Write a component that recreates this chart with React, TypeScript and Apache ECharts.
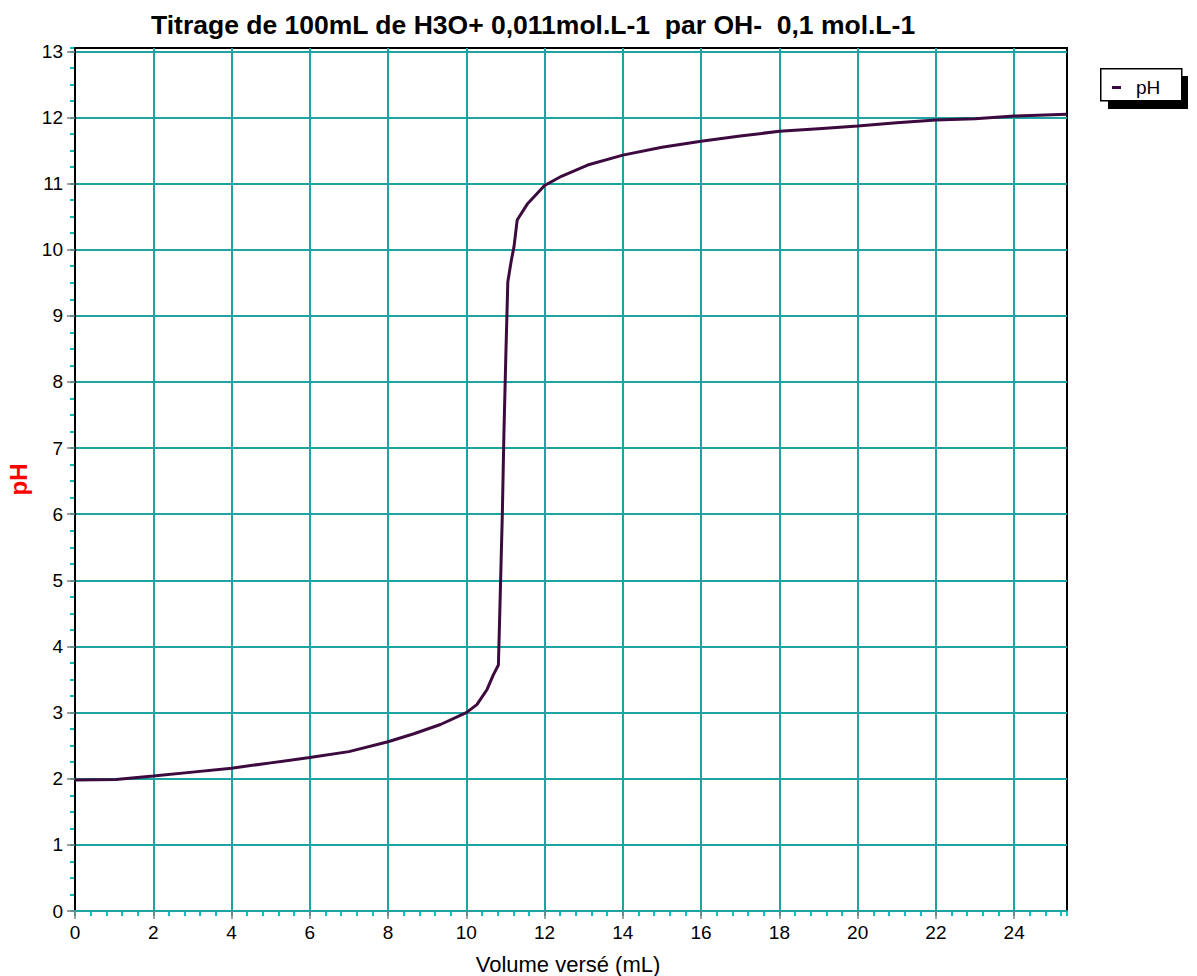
import React, { useEffect, useRef } from "react";
import * as echarts from "echarts";

const TITLE = "Titrage de 100mL de H3O+ 0,011mol.L-1  par OH-  0,1 mol.L-1";
const X_NAME = "Volume versé (mL)";
const Y_NAME = "pH";
const SERIES_NAME = "pH";

const volumes = [0, 1.05, 2, 3, 4, 5, 6, 7, 8, 8.66, 9.34, 10, 10.27, 10.53, 10.69, 10.82, 10.87, 10.92, 10.96, 11.01, 11.06, 11.15, 11.22, 11.3, 11.57, 12, 12.43, 13.1, 14, 15, 16, 17, 18, 19, 20, 21, 22, 23, 24, 25.35];
const phValues = [1.98, 1.99, 2.04, 2.1, 2.16, 2.24, 2.32, 2.41, 2.56, 2.68, 2.82, 3.0, 3.12, 3.35, 3.57, 3.72, 4.85, 6.0, 7.2, 8.4, 9.51, 9.84, 10.05, 10.45, 10.7, 10.97, 11.11, 11.28, 11.43, 11.55, 11.64, 11.72, 11.79, 11.83, 11.87, 11.92, 11.96, 11.98, 12.02, 12.05];

const xTicks = [0, 2, 4, 6, 8, 10, 12, 14, 16, 18, 20, 22, 24];
const yTicks = [0, 1, 2, 3, 4, 5, 6, 7, 8, 9, 10, 11, 12, 13];

const TEAL = "#1ea3a3";
const FONT = "'Liberation Sans', Arial, sans-serif";

export default function App() {
  const ref = useRef<HTMLDivElement>(null);
  useEffect(() => {
    if (!ref.current) return;
    const chart = echarts.init(ref.current, undefined, { renderer: "svg" });
    const data = volumes.map((v, i) => [v, phValues[i]]);
    chart.setOption({
      animation: false,
      backgroundColor: "#fff",
      title: {
        text: TITLE,
        left: 146,
        top: 6,
        textStyle: { fontFamily: FONT, fontWeight: "bold", fontSize: 26.5, color: "#000" },
      },
      grid: {
        left: 75,
        right: 130,
        top: 48,
        bottom: 65,
        show: true,
        borderColor: "#000",
        borderWidth: 2,
        backgroundColor: "#fff",
        containLabel: false,
        outerBoundsMode: "none",
      },
      legend: {
        data: [SERIES_NAME],
        left: 1107,
        top: 73,
        icon: "rect",
        itemWidth: 9,
        itemHeight: 3,
        selectedMode: false,
        textStyle: { fontFamily: FONT, fontSize: 19, color: "#000", padding: [0, 0, 0, 10] },
        z: 10,
      },
      graphic: [
        { type: "rect", left: 1108, top: 76, z: 1, shape: { width: 80, height: 33 }, style: { fill: "#000" } },
        { type: "rect", left: 1100, top: 68, z: 2, shape: { width: 81, height: 32 }, style: { fill: "#fff", stroke: "#000", lineWidth: 1.5 } },
      ],
      xAxis: [
        {
          type: "value",
          min: 0,
          max: 25.35,
          interval: 2,
          position: "bottom",
          z: 3,
          axisLine: { show: true, onZero: false, lineStyle: { color: TEAL, width: 2 } },
          axisTick: { show: true, length: 8, customValues: xTicks, lineStyle: { color: "#808080", width: 1.5 } },
          axisLabel: { customValues: xTicks, margin: 12, fontFamily: FONT, fontSize: 19, color: "#000" },
          splitLine: { show: true, lineStyle: { color: TEAL, width: 2 } },
          name: X_NAME,
          nameLocation: "middle",
          nameGap: 42,
          nameTextStyle: { fontFamily: FONT, fontSize: 22, color: "#000", padding: [0, 6, 0, 0] },
        },
        {
          type: "value",
          min: 0,
          max: 25.35,
          interval: 0.4,
          position: "bottom",
          z: 2,
          axisLine: { show: false },
          axisTick: { show: true, length: 5, lineStyle: { color: "#00c4c4", width: 2 } },
          axisLabel: { show: false },
          splitLine: { show: false },
        },
      ],
      yAxis: [
        {
          type: "value",
          min: 0,
          max: 13.05,
          interval: 1,
          position: "left",
          z: 3,
          axisLine: { show: true, onZero: false, lineStyle: { color: "#000", width: 2 } },
          axisTick: { show: true, length: 8, customValues: yTicks, lineStyle: { color: "#808080", width: 1.5 } },
          axisLabel: { customValues: yTicks, margin: 12, fontFamily: FONT, fontSize: 19, color: "#000" },
          splitLine: { show: true, lineStyle: { color: TEAL, width: 2 } },
          name: Y_NAME,
          nameLocation: "middle",
          nameGap: 44,
          nameRotate: 90,
          nameTextStyle: { fontFamily: FONT, fontSize: 24, fontWeight: "bold", color: "#ff0000" },
        },
        {
          type: "value",
          min: 0,
          max: 13.05,
          interval: 0.25,
          position: "left",
          z: 2,
          axisLine: { show: false },
          axisTick: { show: true, length: 5, lineStyle: { color: "#00c4c4", width: 2 } },
          axisLabel: { show: false },
          splitLine: { show: false },
        },
      ],
      series: [
        {
          name: SERIES_NAME,
          type: "line",
          xAxisIndex: 0,
          yAxisIndex: 0,
          data,
          symbol: "none",
          smooth: false,
          lineStyle: { color: "#3d0a3f", width: 3 },
          itemStyle: { color: "#3d0a3f" },
          z: 5,
        },
      ],
    });
    return () => chart.dispose();
  }, []);
  return <div ref={ref} style={{ position: "fixed", left: 0, top: 0, width: 1197, height: 976 }} />;
}
